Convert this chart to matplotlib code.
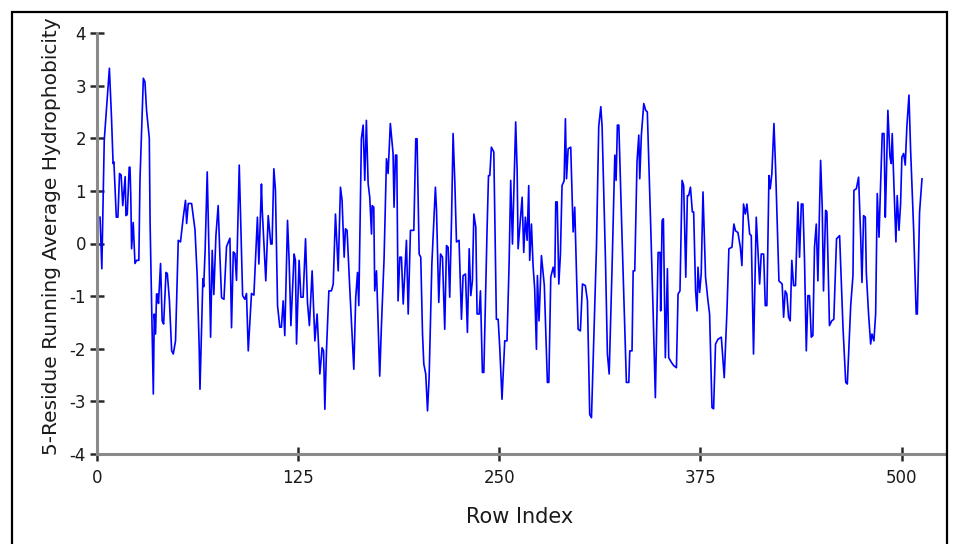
import matplotlib
matplotlib.use("Agg")
import matplotlib.pyplot as plt
from matplotlib.patches import Rectangle

# turning points of the 5-residue running average
row_index = [
    1.9, 3.0, 4.5, 7.7, 9.0, 10.0, 10.5, 12.0, 13.0, 14.0, 15.0, 16.0, 17.5, 18.0, 18.8,
    20.0, 20.5, 21.0, 21.5, 22.5, 23.6, 24.6, 26.0, 26.7, 28.8, 29.8, 30.8, 32.5, 33.0,
    35.0, 35.6, 36.4, 37.0, 37.7, 38.2, 39.5, 40.5, 41.4, 42.9, 43.7, 45.0, 46.4, 47.4,
    48.8, 50.5, 51.9, 53.6, 55.0, 55.7, 56.7, 58.8, 60.9, 62.3, 63.5, 64.0, 65.8, 66.3,
    67.2, 68.5, 69.7, 70.6, 71.6, 72.6, 73.9, 75.3, 76.4, 77.4, 78.9, 80.5, 82.6, 83.6,
    84.7, 85.7, 86.7, 88.4, 90.5, 91.9, 92.9, 94.0, 96.0, 97.5, 99.7, 100.6, 102.2,
    102.7, 104.9, 106.4, 108.0, 108.8, 109.9, 110.9, 112.2, 113.6, 114.6, 115.7, 116.7,
    118.4, 119.4, 120.5, 122.5, 123.3, 124.0, 125.6, 126.7, 128.1, 129.6, 130.8, 132.0,
    133.7, 135.4, 136.8, 138.5, 139.9, 140.8, 141.6, 142.6, 144.1, 145.7, 146.8, 148.2,
    149.9, 151.3, 152.3, 153.6, 154.4, 155.4, 157.1, 159.6, 160.8, 161.9, 162.7, 164.3,
    165.4, 166.4, 167.4, 168.5, 169.5, 170.6, 171.0, 172.0, 172.6, 173.7, 175.7, 176.8,
    178.4, 179.9, 180.9, 182.3, 184.0, 184.6, 185.5, 186.3, 187.1, 188.2, 189.2, 190.3,
    192.3, 193.4, 194.8, 196.9, 198.1, 198.9, 200.2, 201.2, 202.3, 203.1, 204.3, 205.4,
    206.4, 208.1, 210.3, 211.0, 212.4, 213.5, 214.7, 216.1, 217.2, 218.2, 219.2, 220.3,
    221.3, 222.4, 223.4, 225.0, 226.5, 227.5, 229.0, 230.2, 231.3, 232.3, 233.3, 234.2,
    235.4, 236.2, 237.5, 238.3, 239.5, 240.4, 242.4, 243.3, 244.1, 245.1, 246.6, 248.2,
    249.3, 250.3, 251.7, 253.4, 254.8, 256.1, 257.1, 258.2, 260.2, 261.1, 261.7, 264.2,
    265.2, 266.2, 267.3, 268.3, 268.9, 270.0, 271.0, 272.0, 273.1, 273.7, 274.7, 276.2,
    278.0, 279.9, 280.8, 282.0, 283.5, 284.5, 285.1, 286.0, 287.0, 288.0, 289.0, 290.3,
    291.1, 291.8, 292.8, 294.4, 295.9, 296.9, 298.0, 299.0, 300.4, 301.7, 303.5, 304.8,
    306.2, 307.3, 310.4, 311.8, 313.1, 313.9, 316.0, 317.2, 318.3, 320.1, 321.8, 322.6,
    323.4, 324.3, 326.3, 328.0, 329.0, 330.5, 331.1, 332.5, 333.2, 334.2, 335.6, 336.7,
    337.3, 338.3, 339.8, 341.0, 342.0, 344.1, 345.6, 347.0, 348.7, 349.9, 350.3, 351.2,
    352.0, 353.2, 354.5, 355.3, 357.0, 358.4, 360.1, 361.1, 362.3, 363.6, 364.6, 365.9,
    366.9, 367.7, 368.8, 370.0, 370.8, 372.0, 372.9, 373.5, 374.5, 375.5, 376.6, 378.2,
    379.7, 380.7, 382.2, 383.2, 384.4, 385.9, 388.0, 389.8, 391.5, 392.7, 394.6, 395.8,
    396.8, 398.3, 399.8, 400.8, 401.8, 402.9, 403.9, 405.6, 406.6, 408.0, 409.7, 411.8,
    412.8, 414.3, 415.3, 416.3, 417.6, 418.4, 419.4, 420.7, 421.7, 423.8, 425.8, 426.7,
    427.7, 428.7, 429.8, 430.8, 431.8, 432.9, 434.1, 435.6, 436.6, 437.7, 438.7, 439.7,
    440.8, 441.8, 442.8, 443.9, 444.9, 445.9, 447.0, 448.0, 449.7, 450.7, 451.5, 452.8,
    453.6, 455.2, 456.6, 457.9, 459.6, 461.5, 463.6, 465.3, 466.3, 468.4, 469.8, 470.4,
    471.9, 473.3, 474.6, 475.4, 476.4, 477.5, 478.1, 479.5, 480.8, 481.6, 482.8, 483.9,
    484.9, 486.0, 486.8, 488.0, 489.1, 489.9, 490.5, 491.5, 492.8, 493.6, 494.2, 495.3,
    496.5, 497.3, 498.4, 499.4, 500.2, 501.3, 502.3, 503.3, 504.6, 505.6, 507.5, 509.1,
    509.8, 511.2, 512.7,
]

hydrophobicity = [
    0.50, -0.48, 1.96, 3.33, 2.40, 1.52, 1.55, 0.50, 0.50, 1.33, 1.30, 0.72, 1.27, 0.53, 0.55,
    1.45, 1.45, 0.90, -0.10, 0.40, -0.38, -0.32, -0.32, 1.20, 3.14, 3.07, 2.53, 2.00, 0.38,
    -2.86, -1.34, -1.72, -0.96, -0.96, -1.14, -0.38, -1.47, -1.53, -0.55, -0.57, -1.08, -2.04, -2.10,
    -1.85, 0.06, 0.03, 0.50, 0.82, 0.38, 0.76, 0.76, 0.26, -0.64, -1.97, -2.77, -0.67, -0.82,
    -0.13, 1.36, -0.32, -1.78, -0.13, -0.97, 0.15, 0.72, -0.25, -1.03, -1.06, -0.06, 0.10, -1.60,
    -0.16, -0.19, -0.70, 1.49, -0.99, -1.06, -0.95, -2.04, -0.95, -0.98, 0.50, -0.39, 1.13,
    0.63, -0.71, 0.53, -0.01, -0.01, 1.42, 1.01, -1.18, -1.59, -1.59, -1.09, -1.75,
    0.44, -0.32, -1.56, -0.20, -0.32, -1.91, -0.32, -1.02, -1.02, 0.09, -1.12, -1.56,
    -0.52, -1.85, -1.34, -2.48, -1.98, -2.04, -3.15, -2.04, -0.90, -0.90, -0.77, 0.56,
    -0.52, 1.07, 0.82, -0.26, 0.28, 0.25, -0.86, -2.39, -1.02, -0.55, -1.18, 1.99,
    2.25, 1.20, 2.34, 1.14, 0.88, 0.18, 0.72, 0.69, -0.90, -0.52, -2.52, -1.53,
    -0.29, 1.61, 1.33, 2.28, 1.71, 0.69, 1.68, 1.68, -1.09, -0.26, -0.26, -1.15,
    0.06, -1.34, 0.25, 0.25, 1.99, 1.99, -0.20, -0.26, -1.72, -2.29, -2.48, -3.18,
    -2.55, -0.39, 1.07, 0.63, -1.12, -0.20, -0.26, -1.63, -0.04, -0.07, -1.02, 0.41,
    2.09, 1.14, 0.03, 0.06, -1.44, -0.61, -0.58, -1.69, -0.10, -0.99, -0.71, 0.56,
    0.31, -1.34, -1.34, -0.90, -2.45, -2.45, 0.25, 1.29, 1.29, 1.83, 1.74, -1.44,
    -1.44, -1.98, -2.96, -1.85, -1.85, -0.39, 1.20, -0.01, 2.31, 1.39, -0.10, 0.88,
    -0.17, 0.50, 0.06, 1.10, -0.32, 0.37, -0.42, -0.86, -2.01, -0.61, -1.47, -0.23,
    -0.80, -2.64, -2.64, -0.64, -0.45, -0.64, 0.79, 0.79, -0.77, -0.20, 1.10, 1.19,
    2.37, 1.23, 1.80, 1.83, 0.22, 0.69, -0.58, -1.63, -1.66, -0.77, -0.80, -1.09,
    -3.25, -3.31, -0.07, 2.22, 2.60, 2.22, -0.32, -2.10, -2.48, -0.45, 1.68, 1.20,
    2.25, 2.25, 0.12, -1.59, -2.64, -2.64, -2.04, -2.04, -0.52, -0.52, 1.55, 2.06,
    1.23, 2.06, 2.66, 2.53, 2.50, 0.34, -1.28, -2.93, -0.17, -0.17, -1.28, 0.44,
    0.47, -2.17, -0.48, -2.17, -2.26, -2.32, -2.36, -0.96, -0.90, 1.20, 1.10, -0.64,
    0.91, 0.91, 1.07, 0.60, 0.60, -0.90, -1.28, -0.45, -0.93, -0.58, 0.98, -0.64,
    -1.09, -1.34, -3.12, -3.14, -1.91, -1.82, -1.78, -2.55, -1.28, -0.10, -0.07, 0.37,
    0.24, 0.21, -0.07, -0.42, 0.75, 0.56, 0.75, 0.18, 0.15, -2.10, 0.50, -0.77,
    -0.20, -0.20, -1.18, -1.18, 1.29, 1.04, 1.33, 2.28, 1.45, -0.71, -0.77, -1.40,
    -0.90, -0.96, -1.40, -1.47, -0.32, -0.80, -0.80, 0.79, -0.26, 0.75, 0.75, -0.32,
    -2.04, -0.99, -0.99, -1.78, -1.75, -0.07, 0.37, -0.71, 1.58, 0.69, -0.90, 0.63,
    0.60, -1.56, -1.47, -1.44, 0.09, 0.15, -1.59, -2.64, -2.67, -1.18, -0.61, 1.01,
    1.04, 1.26, 0.12, -0.74, 0.53, 0.50, -0.55, -1.34, -1.91, -1.72, -1.85, -1.34,
    0.95, 0.12, 0.95, 2.09, 2.09, 0.50, 1.20, 2.53, 1.64, 1.52, 2.09, 1.07,
    0.03, 0.91, 0.25, 0.75, 1.64, 1.71, 1.49, 2.22, 2.82, 1.80, 0.28, -1.34,
    -1.34, 0.60, 1.23,
]

x_ticks = [0, 125, 250, 375, 500]
y_ticks = [-4, -3, -2, -1, 0, 1, 2, 3, 4]

plt.rcParams['font.family'] = ['DejaVu Sans']
plt.rcParams['axes.unicode_minus'] = False

W, H = 954, 544
fig = plt.figure(figsize=(W / 100, H / 100), dpi=100)
ax = fig.add_axes([97 / W, 1 - 454 / H, (945 - 97) / W, (454 - 33) / H])

ax.plot(row_index, hydrophobicity, color='#0000ff', linewidth=1.2)

ax.set_xlim(0, 527)
ax.set_ylim(-4, 4)
ax.set_xticks(x_ticks)
ax.set_yticks(y_ticks)

for side in ['top', 'right']:
    ax.spines[side].set_visible(False)
for side in ['left', 'bottom']:
    ax.spines[side].set_color('#8a8a8a')
    ax.spines[side].set_linewidth(2.2)

ax.tick_params(direction='inout', length=10, width=1.8, color='#2a2a2a',
               labelsize=12, labelcolor='#1a1a1a')
ax.tick_params(axis='x', pad=6)
ax.tick_params(axis='y', pad=3)

fig.text(520 / W, 1 - 517 / H, 'Row Index', ha='center', va='center',
         fontsize=15, color='#1a1a1a')
fig.text(52 / W, 1 - 236 / H, '5-Residue Running Average Hydrophobicity',
         ha='center', va='center', rotation=90, fontsize=14.5, color='#1a1a1a')

# outer frame
fig.patches.append(Rectangle((12 / W, -0.05), (947 - 12) / W, 1.05 - 12 / H,
                             transform=fig.transFigure, fill=False,
                             edgecolor='black', linewidth=1.6))

fig.savefig('out.png', dpi=100)
